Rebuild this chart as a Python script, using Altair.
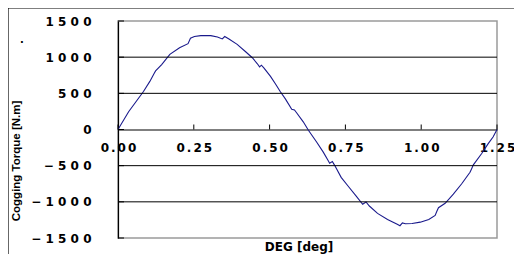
import altair as alt
import pandas as pd

deg = [0.000, 0.035, 0.084, 0.105, 0.120, 0.124, 0.144, 0.171, 0.203, 0.231, 0.239, 0.252,
       0.273, 0.306, 0.328, 0.344, 0.352, 0.366, 0.393, 0.421, 0.443, 0.459, 0.467, 0.473,
       0.481, 0.503, 0.519, 0.535, 0.552, 0.573, 0.582, 0.589, 0.611, 0.628, 0.655, 0.677,
       0.693, 0.698, 0.707, 0.715, 0.736, 0.758, 0.785, 0.807, 0.818, 0.829, 0.856, 0.889,
       0.921, 0.930, 0.938, 0.948, 0.970, 0.997, 1.025, 1.046, 1.052, 1.057, 1.079, 1.106,
       1.133, 1.161, 1.166, 1.172, 1.199, 1.221, 1.237, 1.250]
torque = [0, 246, 525, 665, 782, 810, 898, 1038, 1131, 1187, 1262, 1285,
          1298, 1298, 1278, 1252, 1285, 1252, 1177, 1075, 992, 912, 866, 889,
          852, 735, 633, 525, 423, 279, 270, 232, 106, -10, -173, -313,
          -429, -466, -443, -499, -662, -778, -918, -1034, -1002, -1058, -1160, -1243,
          -1310, -1330, -1291, -1302, -1299, -1281, -1243, -1188, -1127, -1081, -1020, -894,
          -754, -592, -545, -489, -335, -196, -103, 0]

x_ticks = [0.0, 0.25, 0.5, 0.75, 1.0, 1.25]
y_ticks = [-1500, -1000, -500, 0, 500, 1000, 1500]
grid_vals = [-1000, -500, 500, 1000]

W, H = 379, 217

df = pd.DataFrame({"deg": deg, "torque": torque})
xscale = alt.Scale(domain=[0, 1.25], nice=False, zero=False)
yscale = alt.Scale(domain=[-1500, 1500], nice=False)

y_spaced = "join(split(datum.label, ''), ' ')"
x_spaced = "join(split(datum.label, ''), '\u2006')"

x_axis = alt.Axis(values=x_ticks, format=".2f", title=None, offset=-H / 2,
                  domainColor="black", domainWidth=1.2, ticks=False, grid=False,
                  labelPadding=13, labelFont="DejaVu Sans", labelFontWeight="bold",
                  labelFontSize=12, labelColor="black", labelExpr=x_spaced,
                  labelFlush=False, labelOverlap=False)
y_axis = alt.Axis(values=y_ticks, format="d", title=None,
                  domainColor="black", domainWidth=1.2, ticks=False, grid=False,
                  labelPadding=27, labelFont="DejaVu Sans", labelFontWeight="bold",
                  labelFontSize=12, labelColor="black", labelExpr=y_spaced,
                  labelOverlap=False)

line = alt.Chart(df).mark_line(color="#1a1a8c", strokeWidth=1.1).encode(
    x=alt.X("deg:Q", scale=xscale, axis=x_axis),
    y=alt.Y("torque:Q", scale=yscale, axis=y_axis),
)

grid = alt.Chart(pd.DataFrame({"g": grid_vals})).mark_rule(color="black", strokeWidth=1).encode(
    y=alt.Y("g:Q", scale=yscale, axis=y_axis),
    x=alt.value(0), x2=alt.value(W),
)

yt = alt.Chart(pd.DataFrame({"t": y_ticks})).mark_rule(color="black", strokeWidth=1).encode(
    y=alt.Y("t:Q", scale=yscale, axis=y_axis),
    x=alt.value(0), x2=alt.value(6),
)

xt = alt.Chart(pd.DataFrame({"t": x_ticks})).mark_rule(color="black", strokeWidth=1).encode(
    x=alt.X("t:Q", scale=xscale, axis=x_axis),
    y=alt.value(H / 2 - 5), y2=alt.value(H / 2),
)

xtitle = alt.Chart(pd.DataFrame({"s": ["DEG [deg]"]})).mark_text(
    font="DejaVu Sans", fontWeight="bold", fontSize=12,
    color="black", baseline="middle", align="center").encode(
    text="s:N", x=alt.value(181), y=alt.value(226))

ytitle = alt.Chart(pd.DataFrame({"s": ["Cogging Torque [N.m]"]})).mark_text(
    font="Liberation Sans", fontWeight="bold", fontSize=11.5, color="black", angle=270,
    baseline="middle", align="center").encode(
    text="s:N", x=alt.value(-101), y=alt.value(140))

dot = alt.Chart(pd.DataFrame({"s": ["."]})).mark_text(
    font="DejaVu Sans", fontWeight="bold", fontSize=10, color="black",
    baseline="middle", align="center").encode(
    text="s:N", x=alt.value(-96), y=alt.value(19))

frame_top = alt.Chart(pd.DataFrame({"a": [0]})).mark_rule(color="black", strokeWidth=1.2).encode(
    x=alt.value(-110), x2=alt.value(W + 17), y=alt.value(-13))
frame_left = alt.Chart(pd.DataFrame({"a": [0]})).mark_rule(color="black", strokeWidth=1.2).encode(
    x=alt.value(-110), y=alt.value(-13), y2=alt.value(245))

chart = alt.layer(line, grid, yt, xt, xtitle, ytitle, dot, frame_top, frame_left).properties(
    width=W, height=H,
    autosize=alt.AutoSizeParams(type="none"),
    padding={"left": 110, "top": 13, "right": 17, "bottom": 16},
).configure_view(stroke="#9a9a9a", strokeWidth=1.5)

chart.save("out.html", embed_options={"renderer": "svg", "actions": False})
